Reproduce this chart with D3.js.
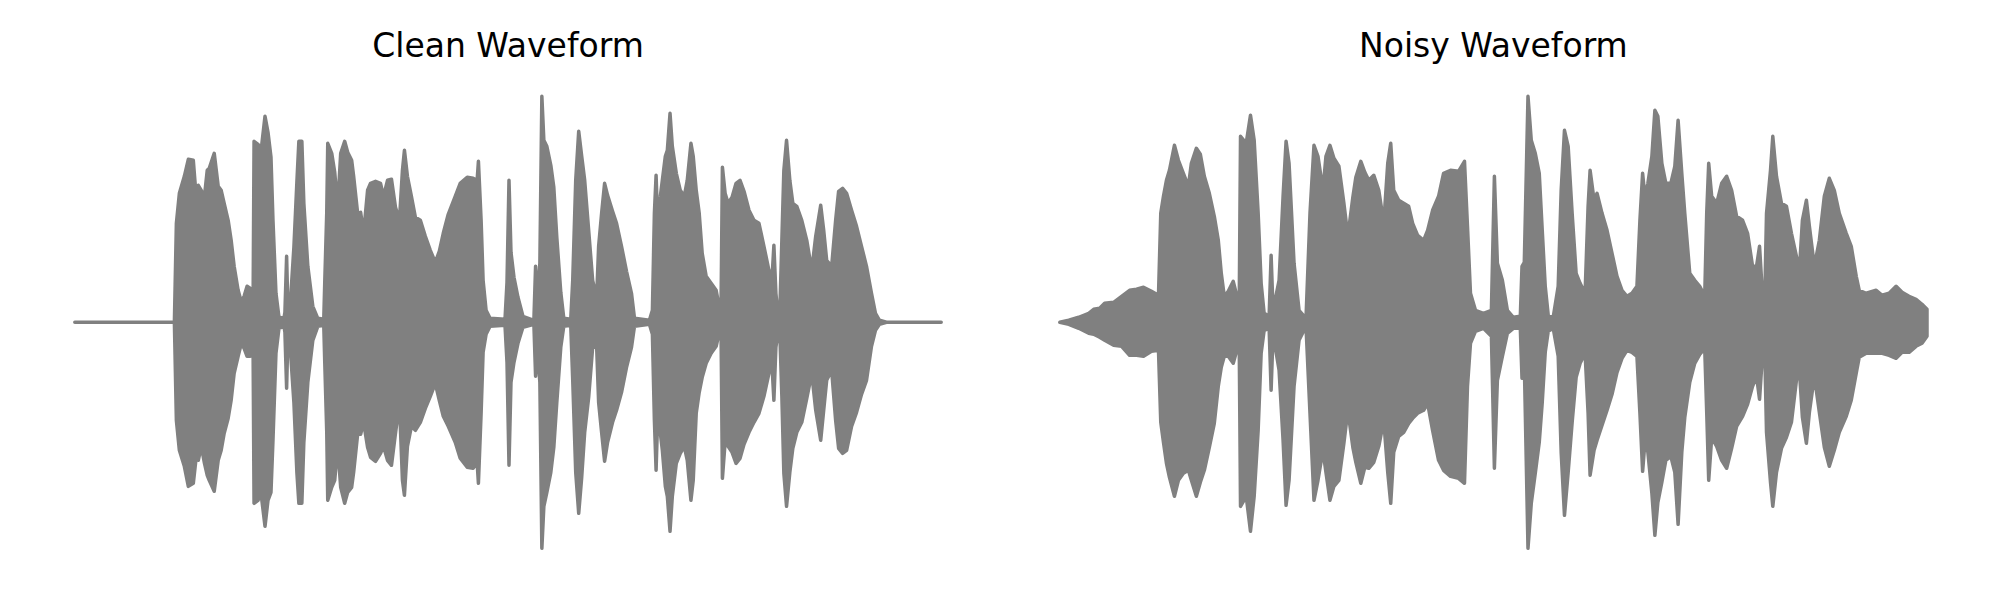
<!DOCTYPE html>
<html>
<head>
<meta charset="utf-8">
<script src="https://cdn.jsdelivr.net/npm/d3@7"></script>
<style>
  html, body { margin: 0; padding: 0; background: #fff; }
  svg { display: block; }
</style>
</head>
<body>
<svg id="chart" width="2000" height="600"></svg>
<script>
// Panel titles
const titles = ["Clean Waveform", "Noisy Waveform"];

// ---- Clean waveform envelope (time index 0..870, amplitude units) ----
const cleanTime = [0,100,102,105,110,114,119,122,124,127,130,133,135,140,144,147,150,154,157,160,164,167,170,173,176,179,180,184,187,191,194,197,199,202,205,210,211,212.7,214,217,220,223,225,228,230,234,239,244,250,251,253,254,258,261,264,267,271,274,278,280,284,287,290,294,297,302,307,310,314,318,322,326,329,331,334,338,342,347,352,357,362,366,370,375,382,387,394,400,404,405.3,408,410,413,417,432,434,436,438,441,445,450,461,462.7,464,467,469,471,474,478,481,484,488,491,498,500,503,506,509,512,516,520,524,526,529,532,535,540,544,549,554,559,562,577,580,582,583.7,585,588,590,593,595,597.7,600,604,608,612,615,618.7,621,624,627,630,634,639,644,647,649,650.3,653,656,660,664,668,672,677,682,687,692,697,700,702,704,706,708,710,712,714.7,718,721,725,730,735,740,744,749,752,755,760,764,767,771,775,780,785,790,795,800,804,808,815,870];
const cleanUpper = [0,0,99,129,146,163,162,124,137,132,124,152,154,169,136,132,119,102,82,56,32,21,26,36,34,12,181,178,171,206,190,165,102,29,5,4,10,66,12,28,75,140,181,181,119,56,16,4,3,40,110,179,169,150,116,169,181,170,162,146,109,110,89,132,139,141,139,126,142,143,115,102,152,172,146,126,105,102,86,72,60,71,89,108,126,139,145,144,142,161,102,42,12,4,3,40,142,70,45,25,6,2,56,20,59,226,182,176,157,135,85,30,4,3,42,142,191,166,142,92,42,24,76,109,139,127,111,99,76,51,29,4,2,12,109,147,109,126,142,166,172,209,176,149,132,126,142,179,166,132,109,69,46,39,32,16,22,155,129,119,125,139,142,131,112,102,99,76,52,42,77,29,9,12,82,152,182,142,119,116,102,82,52,86,117,92,62,56,102,131,134,129,112,96,76,56,29,9,2,0,0];
const cleanLower = [0,0,-98,-128,-144,-164,-161,-134,-138,-124,-140,-153,-158,-169,-138,-128,-111,-96,-78,-51,-34,-22,-26,-34,-34,-21,-181,-178,-171,-204,-178,-170,-118,-31,-6,-4,-10,-66,-12,-35,-80,-150,-181,-181,-120,-60,-18,-4,-3,-40,-110,-178,-165,-158,-124,-165,-181,-170,-165,-150,-112,-112,-100,-125,-135,-139,-131,-124,-138,-143,-111,-81,-158,-173,-124,-104,-108,-100,-86,-74,-61,-78,-94,-104,-120,-136,-145,-146,-140,-161,-91,-30,-12,-4,-3,-40,-143,-60,-40,-21,-5,-2,-54,-20,-60,-226,-184,-170,-150,-125,-80,-25,-4,-3,-58,-150,-191,-155,-110,-75,-25,-24,-80,-110,-139,-120,-100,-88,-70,-45,-25,-4,-2,-12,-98,-148,-105,-111,-128,-164,-174,-209,-174,-141,-131,-124,-138,-178,-158,-91,-70,-55,-41,-31,-24,-11,-15,-156,-120,-124,-130,-141,-136,-122,-110,-100,-91,-74,-51,-41,-78,-25,-11,-12,-74,-151,-184,-150,-126,-110,-100,-76,-51,-88,-118,-88,-58,-48,-98,-126,-131,-128,-104,-90,-72,-58,-24,-8,-2,0,0];

// ---- Noisy waveform envelope (time index 0..870, amplitude units) ----
const noisyTime = [0,9,19,29,34,40,45,54,62,70,77,84,92,99,101.3,104,107,110,115,119,124,129,132,137,141,145,150,155,159,162,165,169,174,177,180,181.3,187,191.3,195,199,202,205,210,212,214,216,220,224,227,230,235,240,247,251,255,259,264,267,271,275,280,285,289,294,297,302,306,310,315,320,325,329,332,335,340,345,350,354,359,365,369,374,380,385,392,400,406,409,412,417,425,433,436,439,444,449,455,462,463.7,466,469.7,473,477,481,484,487,490,495,500,503,506.3,510,514,518,522,527,530,532,536,539,544,549,554,559,564,569,574,579,582,584.7,587,590,594,597,600,604,608,613,617,620.3,624,627,632,637,642,647,649,651,654,659,664,669,674,679,685,690,695,699,702,705,707,709,713,715.3,719,724,729,734,739,742,745,749,752,757,762,767,772,777,782,789,794,799,802,809,819,825,832,839,845,852,859,865,870];
const noisyUpper = [0,2,5,9,13,14,19,20,26,32,33,35,31,27,109,126,142,152,177,162,149,136,159,174,168,146,129,106,82,49,26,31,41,29,16,186,179,207,182,109,39,9,6,67,10,22,42,126,181,159,59,12,4,109,177,166,132,166,177,164,156,119,86,125,145,161,150,142,147,132,99,159,179,132,122,119,116,99,87,82,92,112,126,149,152,151,161,96,29,12,9,12,146,59,42,12,5,6,56,60,226,182,169,149,92,36,7,5,36,132,192,176,109,49,39,29,116,152,122,129,109,92,69,46,32,26,29,36,102,149,126,139,166,212,206,159,139,139,156,202,149,109,49,42,36,26,109,159,126,119,139,146,132,106,102,89,56,56,76,26,12,109,152,186,146,119,116,89,66,52,102,122,96,56,82,126,144,132,109,89,76,46,32,29,32,27,29,36,30,26,23,18,13];
const noisyLower = [0,-2,-6,-11,-12,-15,-18,-23,-24,-33,-33,-34,-29,-28,-100,-120,-141,-155,-174,-158,-151,-148,-158,-174,-160,-148,-125,-101,-64,-45,-34,-34,-41,-30,-20,-184,-174,-209,-174,-108,-31,-8,-6,-68,-10,-24,-48,-118,-183,-158,-64,-18,-4,-91,-178,-158,-128,-150,-178,-164,-158,-121,-88,-125,-140,-161,-145,-146,-140,-124,-98,-150,-181,-130,-114,-110,-101,-96,-91,-88,-81,-108,-138,-148,-154,-156,-161,-64,-21,-9,-6,-14,-146,-58,-34,-11,-6,-6,-56,-40,-226,-181,-151,-120,-80,-30,-9,-6,-34,-130,-193,-150,-100,-55,-41,-31,-91,-153,-128,-118,-103,-88,-72,-50,-36,-28,-30,-34,-91,-149,-120,-130,-171,-213,-180,-160,-138,-134,-150,-202,-130,-95,-60,-41,-32,-26,-90,-158,-115,-124,-138,-146,-126,-104,-94,-82,-64,-54,-77,-31,-18,-110,-160,-184,-150,-126,-115,-100,-58,-48,-95,-121,-90,-54,-90,-125,-144,-128,-110,-94,-78,-51,-35,-31,-31,-31,-33,-36,-30,-30,-24,-21,-14];

const svg = d3.select("#chart");
svg.append("rect").attr("width", 2000).attr("height", 600).attr("fill", "#ffffff");

const centerY = 322.3;
const y = d3.scaleLinear().domain([-230, 230]).range([centerY + 230, centerY - 230]);

const panels = [
  { title: titles[0], time: cleanTime, upper: cleanUpper, lower: cleanLower, range: [74.8, 941.2] },
  { title: titles[1], time: noisyTime, upper: noisyUpper, lower: noisyLower, range: [1059.8, 1927.0] }
];

panels.forEach(p => {
  const x = d3.scaleLinear().domain([0, 870]).range(p.range);
  const pts = p.time.map((t, i) => ({ t: t, hi: p.upper[i], lo: p.lower[i] }));
  const area = d3.area()
    .x(d => x(d.t))
    .y0(d => y(d.lo))
    .y1(d => y(d.hi))
    .curve(d3.curveLinear);
  const g = svg.append("g");
  g.append("path")
    .datum(pts)
    .attr("d", area)
    .attr("fill", "#808080")
    .attr("stroke", "#808080")
    .attr("stroke-width", 3.5)
    .attr("stroke-linejoin", "round")
    .attr("stroke-linecap", "round");
  g.append("text")
    .attr("x", (p.range[0] + p.range[1]) / 2)
    .attr("y", 57)
    .attr("text-anchor", "middle")
    .attr("font-family", "DejaVu Sans, sans-serif")
    .attr("font-size", 33)
    .attr("fill", "#000000")
    .text(p.title);
});
</script>
</body>
</html>
